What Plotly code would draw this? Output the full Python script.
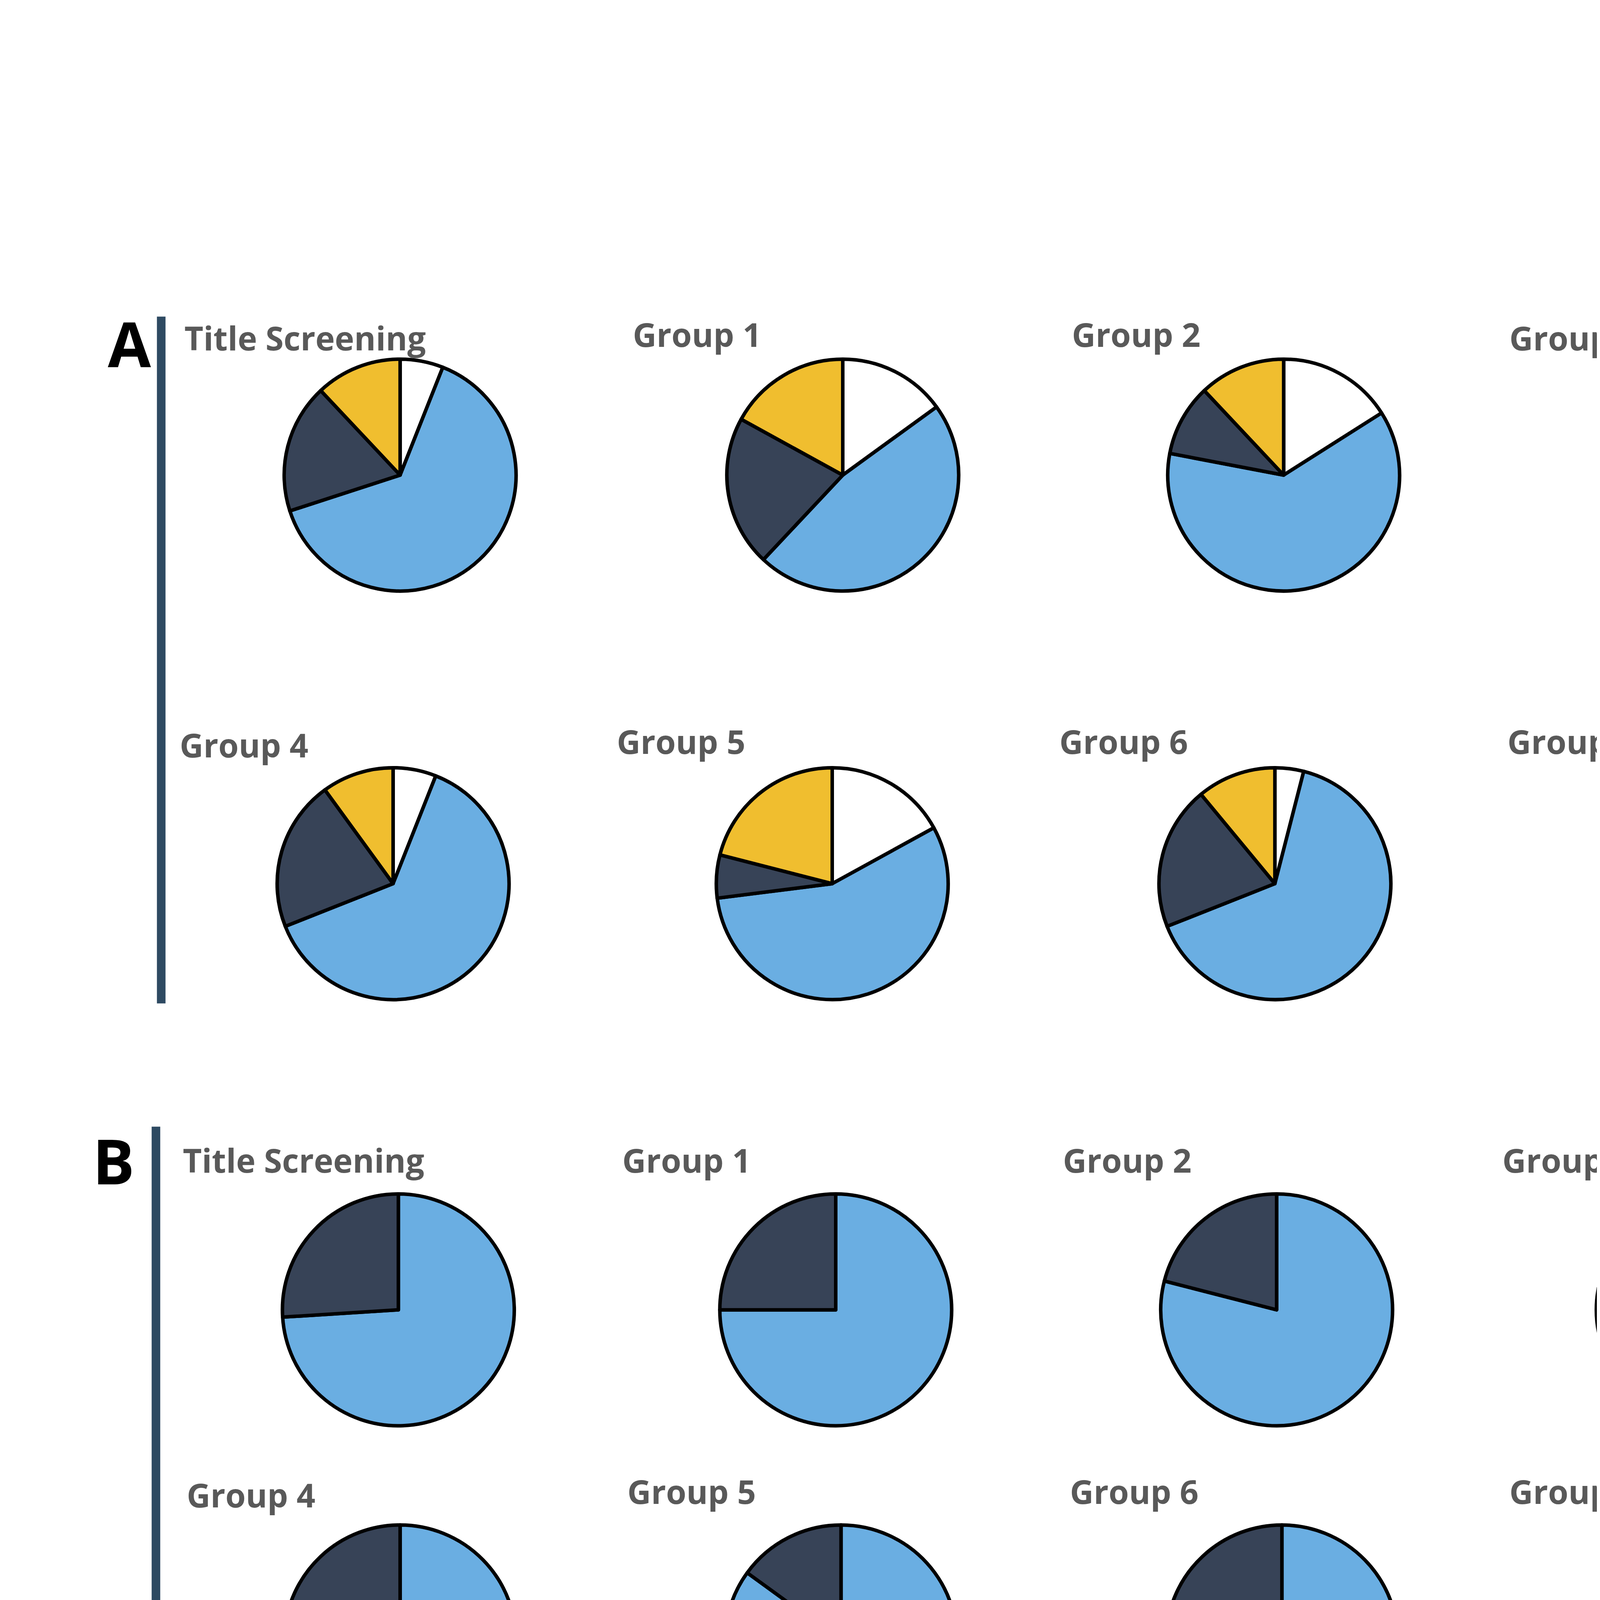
import plotly.graph_objects as go

W, H = 4960, 7015
SX, SY = 1103, 1556  # reference sketch scale used for placement

labels = ["Maybe", "Include", "Exclude", "Conflict"]
colors = ["#ffffff", "#6aaee2", "#374357", "#f0be2f"]

names = ["Title Screening", "Group 1", "Group 2", "Group 3",
         "Group 4", "Group 5", "Group 6", "Group 7"]

# panel A: Maybe, Include, Exclude, Conflict (%)
a_maybe = [6, 15, 16, 3, 6, 17, 4, 4]
a_include = [64, 47, 62, 68, 63, 56, 65, 64]
a_exclude = [18, 21, 10, 17, 21, 6, 20, 18]
a_conflict = [12, 17, 12, 12, 10, 21, 11, 14]

# panel B: Include, Exclude (%)
b_include = [74, 75, 79, 78, 76, 85, 76, 71]
b_exclude = [26, 25, 21, 22, 24, 15, 24, 29]

a_centers = [(226, 268), (478, 268), (729, 268), (979, 268),
             (222, 500), (472, 500), (724, 500), (977, 500)]
b_centers = [(225, 742), (474, 742), (725, 742), (973, 742),
             (226, 930), (477, 930), (728, 930), (979, 930)]
a_titles = [(172, 190), (395, 188), (645, 188), (894, 190),
            (137, 421), (386, 419), (638, 419), (893, 419)]
b_titles = [(171, 657), (389, 657), (640, 657), (890, 657),
            (141, 847), (392, 845), (644, 845), (894, 845)]

R = 66

fig = go.Figure()


def dom(cx, cy):
    return dict(x=[(cx - R) / SX, (cx + R) / SX],
                y=[1 - (cy + R) / SY, 1 - (cy - R) / SY])


first = True
for i in range(8):
    vals = [a_maybe[i], a_include[i], a_exclude[i], a_conflict[i]]
    fig.add_trace(go.Pie(labels=labels, values=vals, sort=False, direction="clockwise",
                         rotation=0, textinfo="none", hoverinfo="label+percent",
                         marker=dict(colors=colors, line=dict(color="black", width=9)),
                         domain=dom(*a_centers[i]), showlegend=first))
    first = False
for i in range(8):
    fig.add_trace(go.Pie(labels=labels[1:3], values=[b_include[i], b_exclude[i]],
                         sort=False, direction="clockwise", rotation=0, textinfo="none",
                         marker=dict(colors=colors[1:3], line=dict(color="black", width=9)),
                         domain=dom(*b_centers[i]), showlegend=False))

tfont = dict(family="Open Sans", size=84, color="#595959")
for i in range(8):
    for (x, y) in (a_titles[i], b_titles[i]):
        fig.add_annotation(x=x / SX, y=1 - y / SY, xref="paper", yref="paper",
                           xanchor="center", yanchor="middle",
                           text="<b>%s</b>" % names[i], showarrow=False, font=tfont)

for txt, x, y in (("A", 72, 193), ("B", 63, 657)):
    fig.add_annotation(x=x / SX, y=1 - y / SY, xref="paper", yref="paper", text="<b>%s</b>" % txt,
                       xanchor="center", yanchor="middle", showarrow=False,
                       font=dict(family="Open Sans", size=160, color="black"))

for x, y0, y1 in ((90, 178, 568), (87, 638, 1027)):
    fig.add_shape(type="line", xref="paper", yref="paper", x0=x / SX, x1=x / SX,
                  y0=1 - y0 / SY, y1=1 - y1 / SY, line=dict(color="#2e4a62", width=22))

fig.update_layout(
    width=W, height=H, margin=dict(l=0, r=0, t=0, b=0),
    paper_bgcolor="white",
    legend=dict(orientation="h", x=185 / SX, y=1 - 1126 / SY, xanchor="left", yanchor="middle",
                entrywidth=940, font=dict(family="Open Sans", size=120, color="#595959"),
                itemsizing="constant"),
)
fig.write_html("out.html")
